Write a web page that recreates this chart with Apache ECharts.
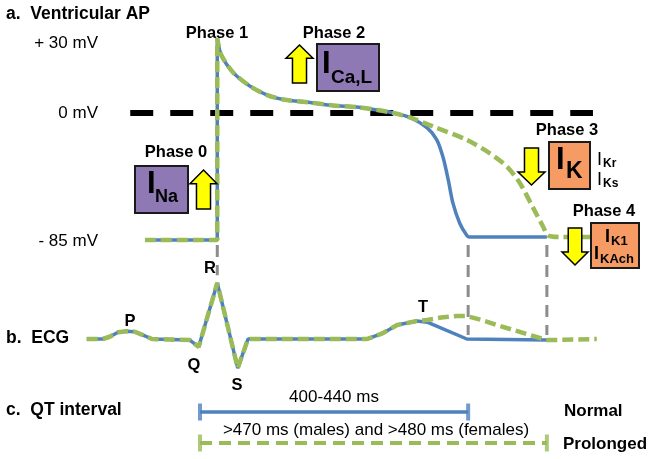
<!DOCTYPE html>
<html><head><meta charset="utf-8">
<script src="https://cdn.jsdelivr.net/npm/echarts@6/dist/echarts.min.js"></script>
<style>html,body{margin:0;padding:0;background:#fff}#c{width:651px;height:459px}</style>
</head><body><div id="c"></div>
<script>
// ---- Data (time in ms from Q onset; AP in schematic mV; ECG in schematic mV) ----
const apNormal = [[-86,-85],[27,-85],[27,50],[33,39],[52,27],[78,18],[105,12],[130,9],[172,7],[208,5],[245,4],[277,2],[302,0],[328,-3],[355,-10],[370,-18],[380,-30],[388,-45],[395,-60],[406,-74],[417,-82],[421,-83],[542,-83]];
const apProlonged = [[-86,-85],[27,-85],[27,50],[33,39],[52,27],[78,18],[105,12],[130,9],[172,7],[208,5],[245,4],[277,2],[302,0],[328,-3],[364,-9],[417,-18],[453,-27],[480,-36],[500,-47],[520,-63],[536,-76],[544,-82],[562,-83],[610,-83]];
const zeroLine = [[-109,0],[614,0]];
const ecgNormal = [[-177,0],[-152,0],[-141,0.04],[-128,0.12],[-115,0.14],[-102,0.13],[-89,0.07],[-75,0],[-16,-0.02],[-2,-0.14],[27,1.0],[59,-0.52],[75,0],[261,0],[285,0.1],[308,0.25],[339,0.32],[355,0.30],[417,0],[542,-0.02]];
const ecgProlonged = [[-177,0],[-152,0],[-141,0.04],[-128,0.12],[-115,0.14],[-102,0.13],[-89,0.07],[-75,0],[-16,-0.02],[-2,-0.14],[27,1.0],[59,-0.52],[75,0],[261,0],[285,0.1],[308,0.25],[339,0.32],[355,0.34],[380,0.39],[402,0.41],[417,0.41],[440,0.34],[464,0.25],[490,0.16],[516,0.07],[542,-0.02],[620,0]];
const guideR = [[27,1.68],[27,1.14]];
const guideNormalEnd = [[419,1.68],[419,0.07]];
const guideProlongedEnd = [[542,1.68],[542,0.07]];
const qtNormal = [[0,1],[419,1]];
const qtProlonged = [[0,0],[542,0]];
const qtLabels = ['400-440 ms', '>470 ms (males) and >480 ms (females)'];
const qtRows = ['Normal', 'Prolonged'];
const mvLabels = ['+ 30 mV', '0 mV', '- 85 mV'];

const BLUE = '#4f81bd', GREEN = '#9bbb59', PURPLE = '#8e79b4', ORANGE = '#f79b64', YEL = '#ffff00';
const FONT = 'Liberation Sans, Arial, sans-serif';

const chart = echarts.init(document.getElementById('c'));
const tMin = -312.5, tMax = 704.7;
const grids = [0,1,2].map(() => ({left:0, right:0, top:0, bottom:0}));
const xAxes = [0,1,2].map(i => ({type:'value', gridIndex:i, min:tMin, max:tMax, show:false}));
const yAxes = [
  {type:'value', gridIndex:0, min:-231.6, max:75.64, show:false},
  {type:'value', gridIndex:1, min:-2.1429, max:6.0536, show:false},
  {type:'value', gridIndex:2, min:-0.516, max:14.29, show:false}
];
function line(data, gi, color, width, type, z, smooth) {
  return {type:'line', xAxisIndex:gi, yAxisIndex:gi, data, showSymbol:false, symbol:'none', silent:true, animation:false,
    smooth: smooth || false, z, lineStyle:{color, width, type, cap:'butt'}};
}
function arrow(x0, x1, top, bottom, up) {
  const w = x1 - x0, sh = w*0.26, hh = (bottom-top)*0.35, cx = (x0+x1)/2;
  let pts;
  if (up) pts = [[cx,top],[x1,top+hh],[cx+sh,top+hh],[cx+sh,bottom],[cx-sh,bottom],[cx-sh,top+hh],[x0,top+hh]];
  else pts = [[cx,bottom],[x1,bottom-hh],[cx+sh,bottom-hh],[cx+sh,top],[cx-sh,top],[cx-sh,bottom-hh],[x0,bottom-hh]];
  return {type:'polygon', shape:{points:pts}, style:{fill:YEL, stroke:'#000', lineWidth:1.5}, z:50};
}
function box(x, y, w, h, fill) {
  return {type:'rect', shape:{x, y, width:w, height:h}, style:{fill, stroke:'#1a1a1a', lineWidth:2}, z:50};
}
function txt(x, y, text, size, bold, align, extra) {
  return Object.assign({type:'text', x, y, z:60, style:{text, fill:'#000', font:(bold?'bold ':'')+size+'px '+FONT, textAlign:align||'left', textVerticalAlign:'middle'}}, extra||{});
}

const series = [
  line(zeroLine, 0, '#000', 6, [23,17], 2),
  line(apNormal, 0, BLUE, 3.5, 'solid', 3, 0.25),
  line(apProlonged, 0, GREEN, 4.5, [11,5], 4, 0.25),
  line(guideR, 1, '#8c8c8c', 3, [12,8], 1),
  line(guideNormalEnd, 1, '#8c8c8c', 3, [12,8], 1),
  line(guideProlongedEnd, 1, '#8c8c8c', 3, [12,8], 1),
  line(ecgNormal, 1, BLUE, 3.5, 'solid', 3),
  line(ecgProlonged, 1, GREEN, 4.5, [11,5], 4),
  line(qtNormal, 2, BLUE, 3.5, 'solid', 3),
  line(qtProlonged, 2, GREEN, 4, [12,7], 3),
  {type:'scatter', xAxisIndex:2, yAxisIndex:2, data:[qtNormal[0], qtNormal[1]], symbol:'rect', symbolSize:[4,17], itemStyle:{color:BLUE}, silent:true, animation:false, z:4},
  {type:'scatter', xAxisIndex:2, yAxisIndex:2, data:[qtProlonged[0], qtProlonged[1]], symbol:'rect', symbolSize:[4,17], itemStyle:{color:GREEN}, silent:true, animation:false, z:4}
];

const graphic = [
  txt(6, 14, 'a.  Ventricular AP', 17.5, true),
  txt(98, 43, mvLabels[0], 17, false, 'right'),
  txt(98, 113, mvLabels[1], 17, false, 'right'),
  txt(98, 241, mvLabels[2], 17, false, 'right'),
  txt(217, 33, 'Phase 1', 16.5, true, 'center'),
  // Phase 2
  txt(334, 33, 'Phase 2', 16.5, true, 'center'),
  arrow(286, 313, 45, 83, true),
  box(317, 44, 62, 47, PURPLE),
  txt(322, 64, 'I', 31, true),
  txt(331, 78, 'Ca,L', 19, true),
  // Phase 0
  txt(176, 152, 'Phase 0', 16.5, true, 'center'),
  box(135, 166, 53, 47, PURPLE),
  txt(147, 184, 'I', 31, true),
  txt(155, 197, 'Na', 18, true),
  arrow(190, 217, 170, 209, true),
  // Phase 3
  txt(567, 130, 'Phase 3', 16.5, true, 'center'),
  arrow(518, 545, 148, 185, false),
  box(549, 142, 41, 47, ORANGE),
  txt(556, 160, 'I', 31, true),
  txt(566, 172, 'K', 23, true),
  txt(597, 160, 'I', 18, false),
  txt(603, 164, 'Kr', 12, true),
  txt(597, 180, 'I', 18, false),
  txt(603, 184, 'Ks', 12, true),
  // Phase 4
  txt(604, 211, 'Phase 4', 16.5, true, 'center'),
  arrow(562, 588, 228, 265, false),
  box(591, 223, 48, 45, ORANGE),
  txt(605, 237, 'I', 18, true),
  txt(611, 241, 'K1', 13, true),
  txt(594, 254, 'I', 18, true),
  txt(600, 259, 'KAch', 13, true),
  // ECG
  txt(6, 338, 'b.  ECG', 17.5, true),
  txt(130, 321, 'P', 16.5, true, 'center'),
  txt(210, 268, 'R', 16.5, true, 'center'),
  txt(194, 365, 'Q', 16.5, true, 'center'),
  txt(237, 385, 'S', 16.5, true, 'center'),
  txt(423, 307, 'T', 16.5, true, 'center'),
  // QT
  txt(6, 410, 'c.  QT interval', 17.5, true),
  txt(334, 397, qtLabels[0], 17, false, 'center'),
  txt(376, 430, qtLabels[1], 17, false, 'center'),
  txt(564, 411, qtRows[0], 17, true),
  txt(563, 444, qtRows[1], 17, true)
];

chart.setOption({animation:false, grid:grids, xAxis:xAxes, yAxis:yAxes, series, graphic});
</script></body></html>
